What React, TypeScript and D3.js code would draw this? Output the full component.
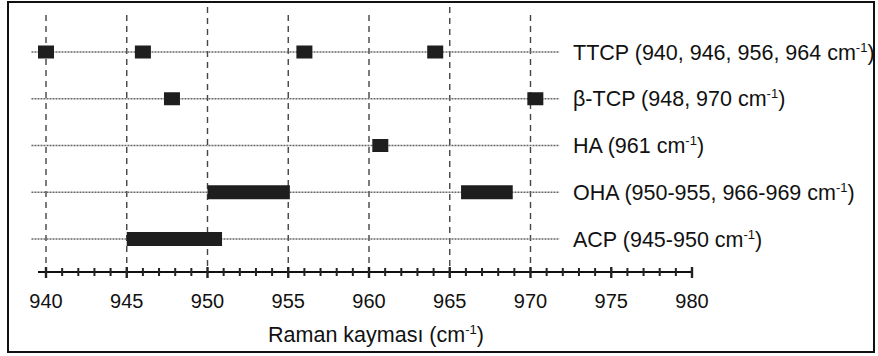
import { useEffect, useRef } from "react";
import * as d3 from "d3";

// chart data
const categories = ["TTCP", "β-TCP", "HA", "OHA", "ACP"];
const labelMain = ["TTCP (940, 946, 956, 964 cm", "β-TCP (948, 970 cm", "HA (961 cm", "OHA (950-955, 966-969 cm", "ACP (945-950 cm"];
const ttcpPeaks = [940, 946, 956, 964.1];
const btcpPeaks = [947.8, 970.3];
const haPeaks = [960.7];
const ohaBands = [[950, 955.1], [965.7, 968.9]];
const acpBands = [[945, 950.9]];
const xTicks = [940, 945, 950, 955, 960, 965, 970, 975, 980];
const gridValues = [940, 945, 950, 955, 960, 965, 970];

const App = () => {
  const ref = useRef<SVGSVGElement>(null);

  useEffect(() => {
    document.body.style.margin = "0";
    const W = 878;
    const H = 356;
    const svg = d3.select(ref.current);
    svg.selectAll("*").remove();
    svg.attr("width", W).attr("height", H);

    const font = "Liberation Sans, Arial, sans-serif";

    const x = d3.scaleLinear().domain([940, 980]).range([46, 692]);
    const y = d3.scalePoint().domain(categories).range([52, 239]);
    const AXIS_Y = 272;

    // frame
    svg.append("rect")
      .attr("x", 8).attr("y", 2)
      .attr("width", 866).attr("height", 350)
      .attr("fill", "white").attr("stroke", "#111").attr("stroke-width", 2);

    // vertical dashed grid
    svg.append("g").selectAll("line").data(gridValues).enter().append("line")
      .attr("x1", (d) => x(d)).attr("x2", (d) => x(d))
      .attr("y1", (d) => (d === 950 || d === 965 ? 7 : 15))
      .attr("y2", AXIS_Y)
      .attr("stroke", "#444").attr("stroke-width", 1.4)
      .attr("stroke-dasharray", "6,5");

    // horizontal dotted lines per row
    svg.append("g").selectAll("line").data(categories).enter().append("line")
      .attr("x1", x(939.1)).attr("x2", x(971.8))
      .attr("y1", (d) => y(d)!).attr("y2", (d) => y(d)!)
      .attr("stroke", "#666").attr("stroke-width", 1.6)
      .attr("stroke-dasharray", "2,1");

    // point markers
    const SQ_W = 16, SQ_H = 13;
    const points = [
      ...ttcpPeaks.map((v) => ({ cat: "TTCP", v })),
      ...btcpPeaks.map((v) => ({ cat: "β-TCP", v })),
      ...haPeaks.map((v) => ({ cat: "HA", v })),
    ];
    svg.append("g").selectAll("rect").data(points).enter().append("rect")
      .attr("x", (d) => x(d.v) - SQ_W / 2)
      .attr("y", (d) => y(d.cat)! - SQ_H / 2)
      .attr("width", SQ_W).attr("height", SQ_H)
      .attr("fill", "#1e1e1e");

    // band markers
    const bands = [
      ...ohaBands.map((b) => ({ cat: "OHA", b })),
      ...acpBands.map((b) => ({ cat: "ACP", b })),
    ];
    const BH = 14;
    svg.append("g").selectAll("rect").data(bands).enter().append("rect")
      .attr("x", (d) => x(d.b[0]))
      .attr("y", (d) => y(d.cat)! - BH / 2)
      .attr("width", (d) => x(d.b[1]) - x(d.b[0]))
      .attr("height", BH)
      .attr("fill", "#1e1e1e");

    // row labels
    const lab = svg.append("g").selectAll("text").data(categories).enter().append("text")
      .attr("x", 573)
      .attr("y", (d) => y(d)! + 7.5)
      .attr("font-family", font).attr("font-size", 21.5).attr("fill", "#111");
    lab.append("tspan").text((d, i) => labelMain[i]);
    lab.append("tspan").attr("font-size", 13).attr("dy", -8).text("-1");
    lab.append("tspan").attr("dy", 8).text(")");

    // x axis
    const ax = svg.append("g");
    ax.append("line")
      .attr("x1", 38).attr("x2", x(980))
      .attr("y1", AXIS_Y).attr("y2", AXIS_Y)
      .attr("stroke", "#111").attr("stroke-width", 2);
    const minor = d3.range(940, 981, 1);
    ax.selectAll("line.minor").data(minor).enter().append("line")
      .attr("class", "minor")
      .attr("x1", (d) => x(d)).attr("x2", (d) => x(d))
      .attr("y1", (d) => (d % 5 === 0 ? AXIS_Y - 5 : AXIS_Y - 4))
      .attr("y2", (d) => (d % 5 === 0 ? AXIS_Y + 6 : AXIS_Y + 4))
      .attr("stroke", "#222").attr("stroke-width", (d) => (d % 5 === 0 ? 2.4 : 2));

    ax.selectAll("text").data(xTicks).enter().append("text")
      .attr("x", (d) => x(d)).attr("y", 308)
      .attr("text-anchor", "middle")
      .attr("font-family", font).attr("font-size", 20).attr("fill", "#111")
      .text((d) => d);

    const xl = svg.append("text")
      .attr("x", 376).attr("y", 342)
      .attr("text-anchor", "middle")
      .attr("font-family", font).attr("font-size", 21.5).attr("fill", "#111");
    xl.append("tspan").text("Raman kayması (cm");
    xl.append("tspan").attr("font-size", 13).attr("dy", -8).text("-1");
    xl.append("tspan").attr("dy", 8).text(")");
  }, []);

  return <svg ref={ref}></svg>;
};

export default App;
